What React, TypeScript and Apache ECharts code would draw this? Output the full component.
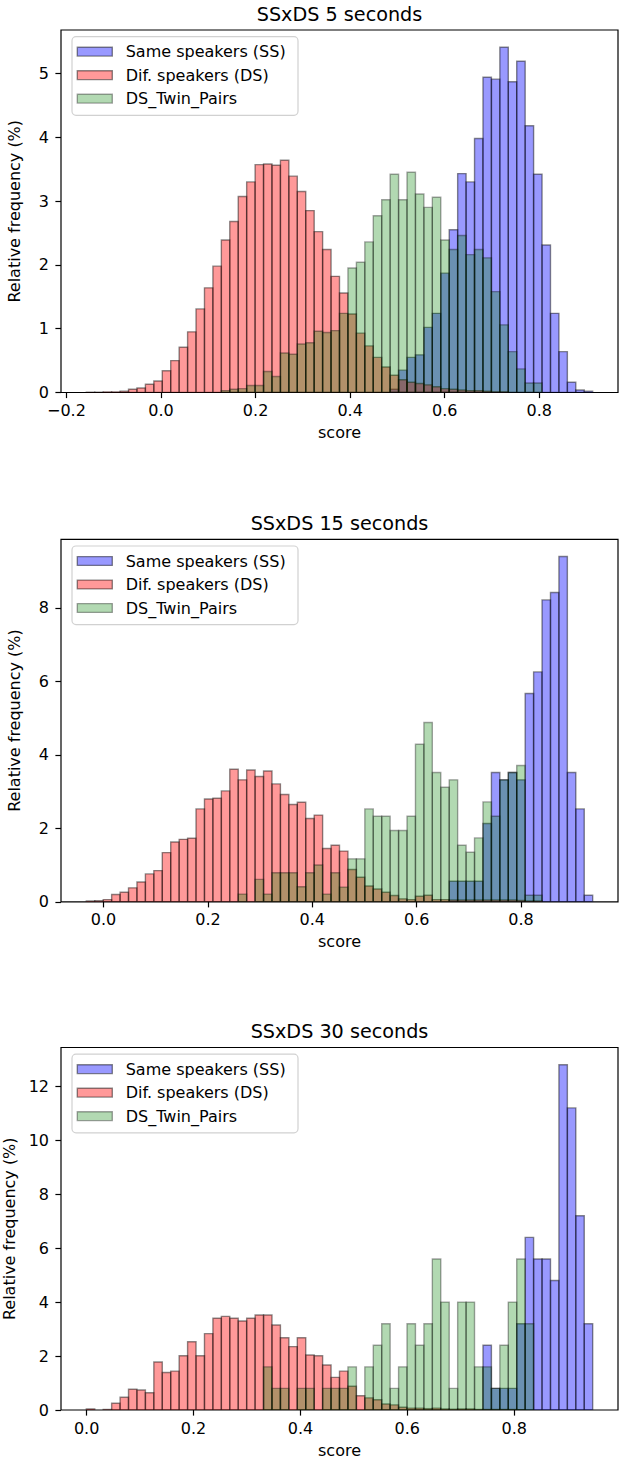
import React, { useEffect, useRef } from "react";
import * as echarts from "echarts";

const W = 624;
const H = 1461;
const FONT = "DejaVu Sans";

const titles = ["SSxDS 5 seconds", "SSxDS 15 seconds", "SSxDS 30 seconds"];
const seriesNames = ["Same speakers (SS)", "Dif. speakers (DS)", "DS_Twin_Pairs"];

// shared histogram bins per panel (60 bins each)
const binStart = [-0.158, -0.033, -0.0006];
const binWidth = [0.01785, 0.01617, 0.01579];

const xTicks = [
  [-0.2, 0, 0.2, 0.4, 0.6, 0.8],
  [0, 0.2, 0.4, 0.6, 0.8],
  [0, 0.2, 0.4, 0.6, 0.8],
];
const yTicks = [
  [0, 1, 2, 3, 4, 5],
  [0, 2, 4, 6, 8],
  [0, 2, 4, 6, 8, 10, 12],
];
const yMax = [5.68, 9.87, 13.44];

// ---- 5 seconds ----
const ss5 = [
  0, 0, 0, 0, 0, 0, 0, 0, 0, 0,
  0, 0, 0, 0, 0, 0, 0, 0, 0, 0,
  0, 0, 0, 0, 0, 0, 0, 0, 0, 0,
  0, 0, 0, 0, 0, 0, 0.05, 0.35, 0.55, 0.59,
  1.02, 1.24, 1.87, 2.55, 3.43, 3.30, 3.98, 4.94, 4.91, 5.41,
  4.87, 5.19, 4.18, 3.42, 2.31, 1.24, 0.64, 0.16, 0.04, 0.02,
];
const ds5 = [
  0.005, 0.005, 0.01, 0.01, 0.02, 0.05, 0.07, 0.13, 0.18, 0.34,
  0.50, 0.71, 0.95, 1.31, 1.64, 1.98, 2.39, 2.68, 3.07, 3.30,
  3.57, 3.58, 3.56, 3.64, 3.39, 3.15, 2.85, 2.52, 2.24, 1.82,
  1.56, 1.23, 0.93, 0.73, 0.55, 0.40, 0.27, 0.20, 0.16, 0.14,
  0.12, 0.09, 0.06, 0.05, 0.04, 0.03, 0.03, 0.02, 0.01, 0.01,
  0, 0, 0, 0, 0, 0, 0, 0, 0, 0,
];
const tw5 = [
  0, 0, 0, 0, 0, 0, 0, 0, 0, 0,
  0, 0, 0, 0, 0, 0, 0.03, 0.05, 0.06, 0.11,
  0.11, 0.33, 0.25, 0.62, 0.60, 0.76, 0.78, 0.96, 0.94, 0.97,
  1.24, 1.95, 2.04, 2.36, 2.77, 3.02, 3.42, 3.02, 3.45, 3.11,
  2.90, 3.06, 2.39, 2.24, 2.46, 2.16, 2.24, 2.11, 1.58, 1.06,
  0.64, 0.37, 0.15, 0.15, 0, 0, 0, 0, 0, 0,
];

// ---- 15 seconds ----
const ss15 = [
  0, 0, 0, 0, 0, 0, 0, 0, 0, 0,
  0, 0, 0, 0, 0, 0, 0, 0, 0, 0,
  0, 0, 0, 0, 0, 0, 0, 0, 0, 0,
  0, 0, 0, 0, 0, 0, 0, 0, 0, 0,
  0, 0, 0, 0.56, 0.56, 0.56, 0.56, 2.13, 3.52, 3.32,
  3.52, 3.32, 5.67, 6.26, 8.22, 8.42, 9.40, 3.52, 2.53, 0.18,
];
const ds15 = [
  0.02, 0.03, 0.06, 0.20, 0.26, 0.38, 0.54, 0.76, 0.85, 1.34,
  1.63, 1.70, 1.73, 2.53, 2.80, 2.82, 3.02, 3.61, 3.32, 3.59,
  3.41, 3.56, 3.21, 2.92, 2.65, 2.71, 2.27, 2.36, 1.45, 1.54,
  1.38, 0.88, 0.67, 0.43, 0.35, 0.26, 0.17, 0.08, 0.06, 0.15,
  0.18, 0.06, 0.06, 0.05, 0.05, 0.05, 0.05, 0.05, 0.05, 0.05,
  0.05, 0.04, 0.02, 0.02, 0, 0, 0, 0, 0, 0,
];
const tw15 = [
  0, 0, 0, 0, 0, 0, 0, 0, 0, 0,
  0, 0, 0, 0, 0, 0, 0, 0, 0.21, 0,
  0.61, 0.21, 0.79, 0.79, 0.79, 0.41, 0.79, 1.00, 0.21, 0.79,
  0.40, 1.17, 1.17, 2.53, 2.33, 2.33, 1.94, 1.94, 2.33, 4.29,
  4.88, 3.52, 3.12, 3.32, 1.54, 1.35, 1.74, 2.72, 2.33, 3.32,
  3.52, 3.71, 0.18, 0.18, 0, 0, 0, 0, 0, 0,
];

// ---- 30 seconds ----
const ss30 = [
  0, 0, 0, 0, 0, 0, 0, 0, 0, 0,
  0, 0, 0, 0, 0, 0, 0, 0, 0, 0,
  0, 0, 0, 0, 0, 0, 0, 0, 0, 0,
  0, 0, 0, 0, 0, 0, 0, 0, 0, 0,
  0, 0, 0, 0, 0, 0, 0, 2.4, 0.8, 0.8,
  0.8, 3.2, 6.4, 5.6, 5.6, 4.8, 12.8, 11.2, 7.2, 3.2,
];
const ds30 = [
  0.04, 0, 0.02, 0.25, 0.47, 0.77, 0.74, 0.64, 1.78, 1.39,
  1.44, 2.01, 2.53, 2.01, 2.83, 3.40, 3.47, 3.40, 3.30, 3.40,
  3.52, 3.52, 3.15, 2.68, 2.35, 2.68, 2.04, 2.01, 1.67, 1.21,
  1.44, 0.88, 0.53, 0.45, 0.38, 0.22, 0.19, 0.10, 0.07, 0.07,
  0.05, 0.07, 0.04, 0.03, 0.04, 0.04, 0.02, 0.02, 0.02, 0.02,
  0.02, 0.01, 0, 0, 0, 0, 0, 0, 0, 0,
];
const tw30 = [
  0, 0, 0, 0, 0, 0, 0, 0, 0, 0,
  0, 0, 0, 0, 0, 0, 0, 0, 0, 0,
  0, 1.6, 0.8, 0.8, 0, 0.8, 0.8, 0, 0.8, 0.8,
  0.8, 1.6, 0, 1.6, 2.4, 3.2, 0.8, 1.6, 3.2, 2.4,
  3.2, 5.6, 4.0, 0.8, 4.0, 4.0, 1.6, 1.6, 0.8, 2.4,
  4.0, 5.6, 3.2, 0, 0, 0, 0, 0, 0, 0,
];

const panels = [
  [ss5, ds5, tw5],
  [ss15, ds15, tw15],
  [ss30, ds30, tw30],
];

const fills = ["rgba(0,0,255,0.4)", "rgba(255,0,0,0.4)", "rgba(0,128,0,0.3)"];
const edges = ["rgba(0,0,0,0.45)", "rgba(0,0,0,0.45)", "rgba(0,0,0,0.35)"];

// layout
const GRID_LEFT = 61;
const GRID_RIGHT = 6;
const plotTops = [30, 539.3, 1047.5];
const PLOT_H = 362.5;
const plotCenterX = (GRID_LEFT + (W - GRID_RIGHT)) / 2;
const legendRows = [21.7, 45.2, 68.7];

function bars(p: number, values: number[]) {
  const out: number[][] = [];
  values.forEach((h, i) => {
    if (h > 0) out.push([binStart[p] + i * binWidth[p], binStart[p] + (i + 1) * binWidth[p], h]);
  });
  return out;
}

function fmtX(v: number) {
  const s = Math.abs(v).toFixed(1);
  return v < -1e-9 ? "\u2212" + s : s;
}

function buildOption() {
  const grid: any[] = [];
  const xAxis: any[] = [];
  const yAxis: any[] = [];
  const series: any[] = [];
  const graphic: any[] = [];

  panels.forEach((set, p) => {
    const R = binWidth[p] * 60;
    const xmin = binStart[p] - 0.05 * R;
    const xmax = binStart[p] + R + 0.05 * R;
    grid.push({
      left: GRID_LEFT,
      right: GRID_RIGHT,
      top: plotTops[p],
      height: PLOT_H,
      show: true,
      borderColor: "#000",
      borderWidth: 1.2,
      backgroundColor: "rgba(0,0,0,0)",
      containLabel: false,
      outerBoundsMode: "none",
    });
    xAxis.push({
      type: "value",
      gridIndex: p,
      position: "bottom",
      min: xmin,
      max: xmax,
      axisLine: { show: false, onZero: false },
      splitLine: { show: false },
      axisTick: {
        show: true,
        inside: false,
        length: 5.6,
        lineStyle: { color: "#000", width: 1.2 },
        customValues: xTicks[p],
      },
      axisLabel: {
        customValues: xTicks[p],
        formatter: (v: number) => fmtX(v),
        color: "#000",
        fontSize: 16,
        fontFamily: FONT,
        margin: 10,
      },
      name: "score",
      nameLocation: "middle",
      nameGap: 32,
      nameTextStyle: { color: "#000", fontSize: 16, fontFamily: FONT },
    });
    yAxis.push({
      type: "value",
      gridIndex: p,
      position: "left",
      min: 0,
      max: yMax[p],
      axisLine: { show: false, onZero: false },
      splitLine: { show: false },
      axisTick: {
        show: true,
        inside: false,
        length: 5.6,
        lineStyle: { color: "#000", width: 1.2 },
        customValues: yTicks[p],
      },
      axisLabel: {
        customValues: yTicks[p],
        formatter: (v: number) => String(v),
        color: "#000",
        fontSize: 16,
        fontFamily: FONT,
        margin: 12,
      },
      name: "Relative frequency (%)",
      nameLocation: "middle",
      nameGap: 39,
      nameTextStyle: { color: "#000", fontSize: 16, fontFamily: FONT },
    });

    set.forEach((vals, k) => {
      const fill = fills[k];
      const stroke = edges[k];
      series.push({
        type: "custom",
        name: seriesNames[k],
        xAxisIndex: p,
        yAxisIndex: p,
        silent: true,
        clip: true,
        z: 2 + k,
        encode: { x: [0, 1], y: 2 },
        data: bars(p, vals),
        renderItem: (_params: any, api: any) => {
          const p0 = api.coord([api.value(0), 0]);
          const p1 = api.coord([api.value(1), api.value(2)]);
          return {
            type: "rect",
            shape: { x: p0[0], y: p1[1], width: p1[0] - p0[0], height: p0[1] - p1[1] },
            style: { fill, stroke, lineWidth: 1.4 },
          };
        },
      });
    });

    // title
    graphic.push({
      type: "text",
      x: plotCenterX,
      y: plotTops[p] - 16,
      z: 100,
      style: {
        text: titles[p],
        fontSize: 19.2,
        fontFamily: FONT,
        fill: "#000",
        align: "center",
        verticalAlign: "middle",
        textAlign: "center",
        textVerticalAlign: "middle",
      },
    });
    // legend frame
    graphic.push({
      type: "rect",
      z: 100,
      shape: { x: 72, y: plotTops[p] + 6.7, width: 226, height: 78.6, r: 4 },
      style: { fill: "rgba(255,255,255,0.8)", stroke: "rgba(204,204,204,0.9)", lineWidth: 1.2 },
    });
    seriesNames.forEach((nm, k) => {
      const cy = plotTops[p] + legendRows[k];
      graphic.push({
        type: "rect",
        z: 101,
        shape: { x: 77.3, y: cy - 4.4, width: 35, height: 8.8 },
        style: { fill: fills[k], stroke: edges[k], lineWidth: 1.4 },
      });
      graphic.push({
        type: "text",
        z: 101,
        x: 125.7,
        y: cy,
        style: {
          text: nm,
          fontSize: 16,
          fontFamily: FONT,
          fill: "#000",
          align: "left",
          verticalAlign: "middle",
          textAlign: "left",
          textVerticalAlign: "middle",
        },
      });
    });
  });

  return {
    animation: false,
    backgroundColor: "#fff",
    textStyle: { fontFamily: FONT },
    grid,
    xAxis,
    yAxis,
    series,
    graphic,
  };
}

export default function App() {
  const ref = useRef<HTMLDivElement>(null);
  useEffect(() => {
    if (!ref.current) return;
    const chart = echarts.init(ref.current, null, { renderer: "svg", width: W, height: H });
    chart.setOption(buildOption() as any);
    return () => chart.dispose();
  }, []);
  return (
    <div
      ref={ref}
      style={{ position: "fixed", left: 0, top: 0, width: W, height: H, background: "#fff" }}
    />
  );
}
